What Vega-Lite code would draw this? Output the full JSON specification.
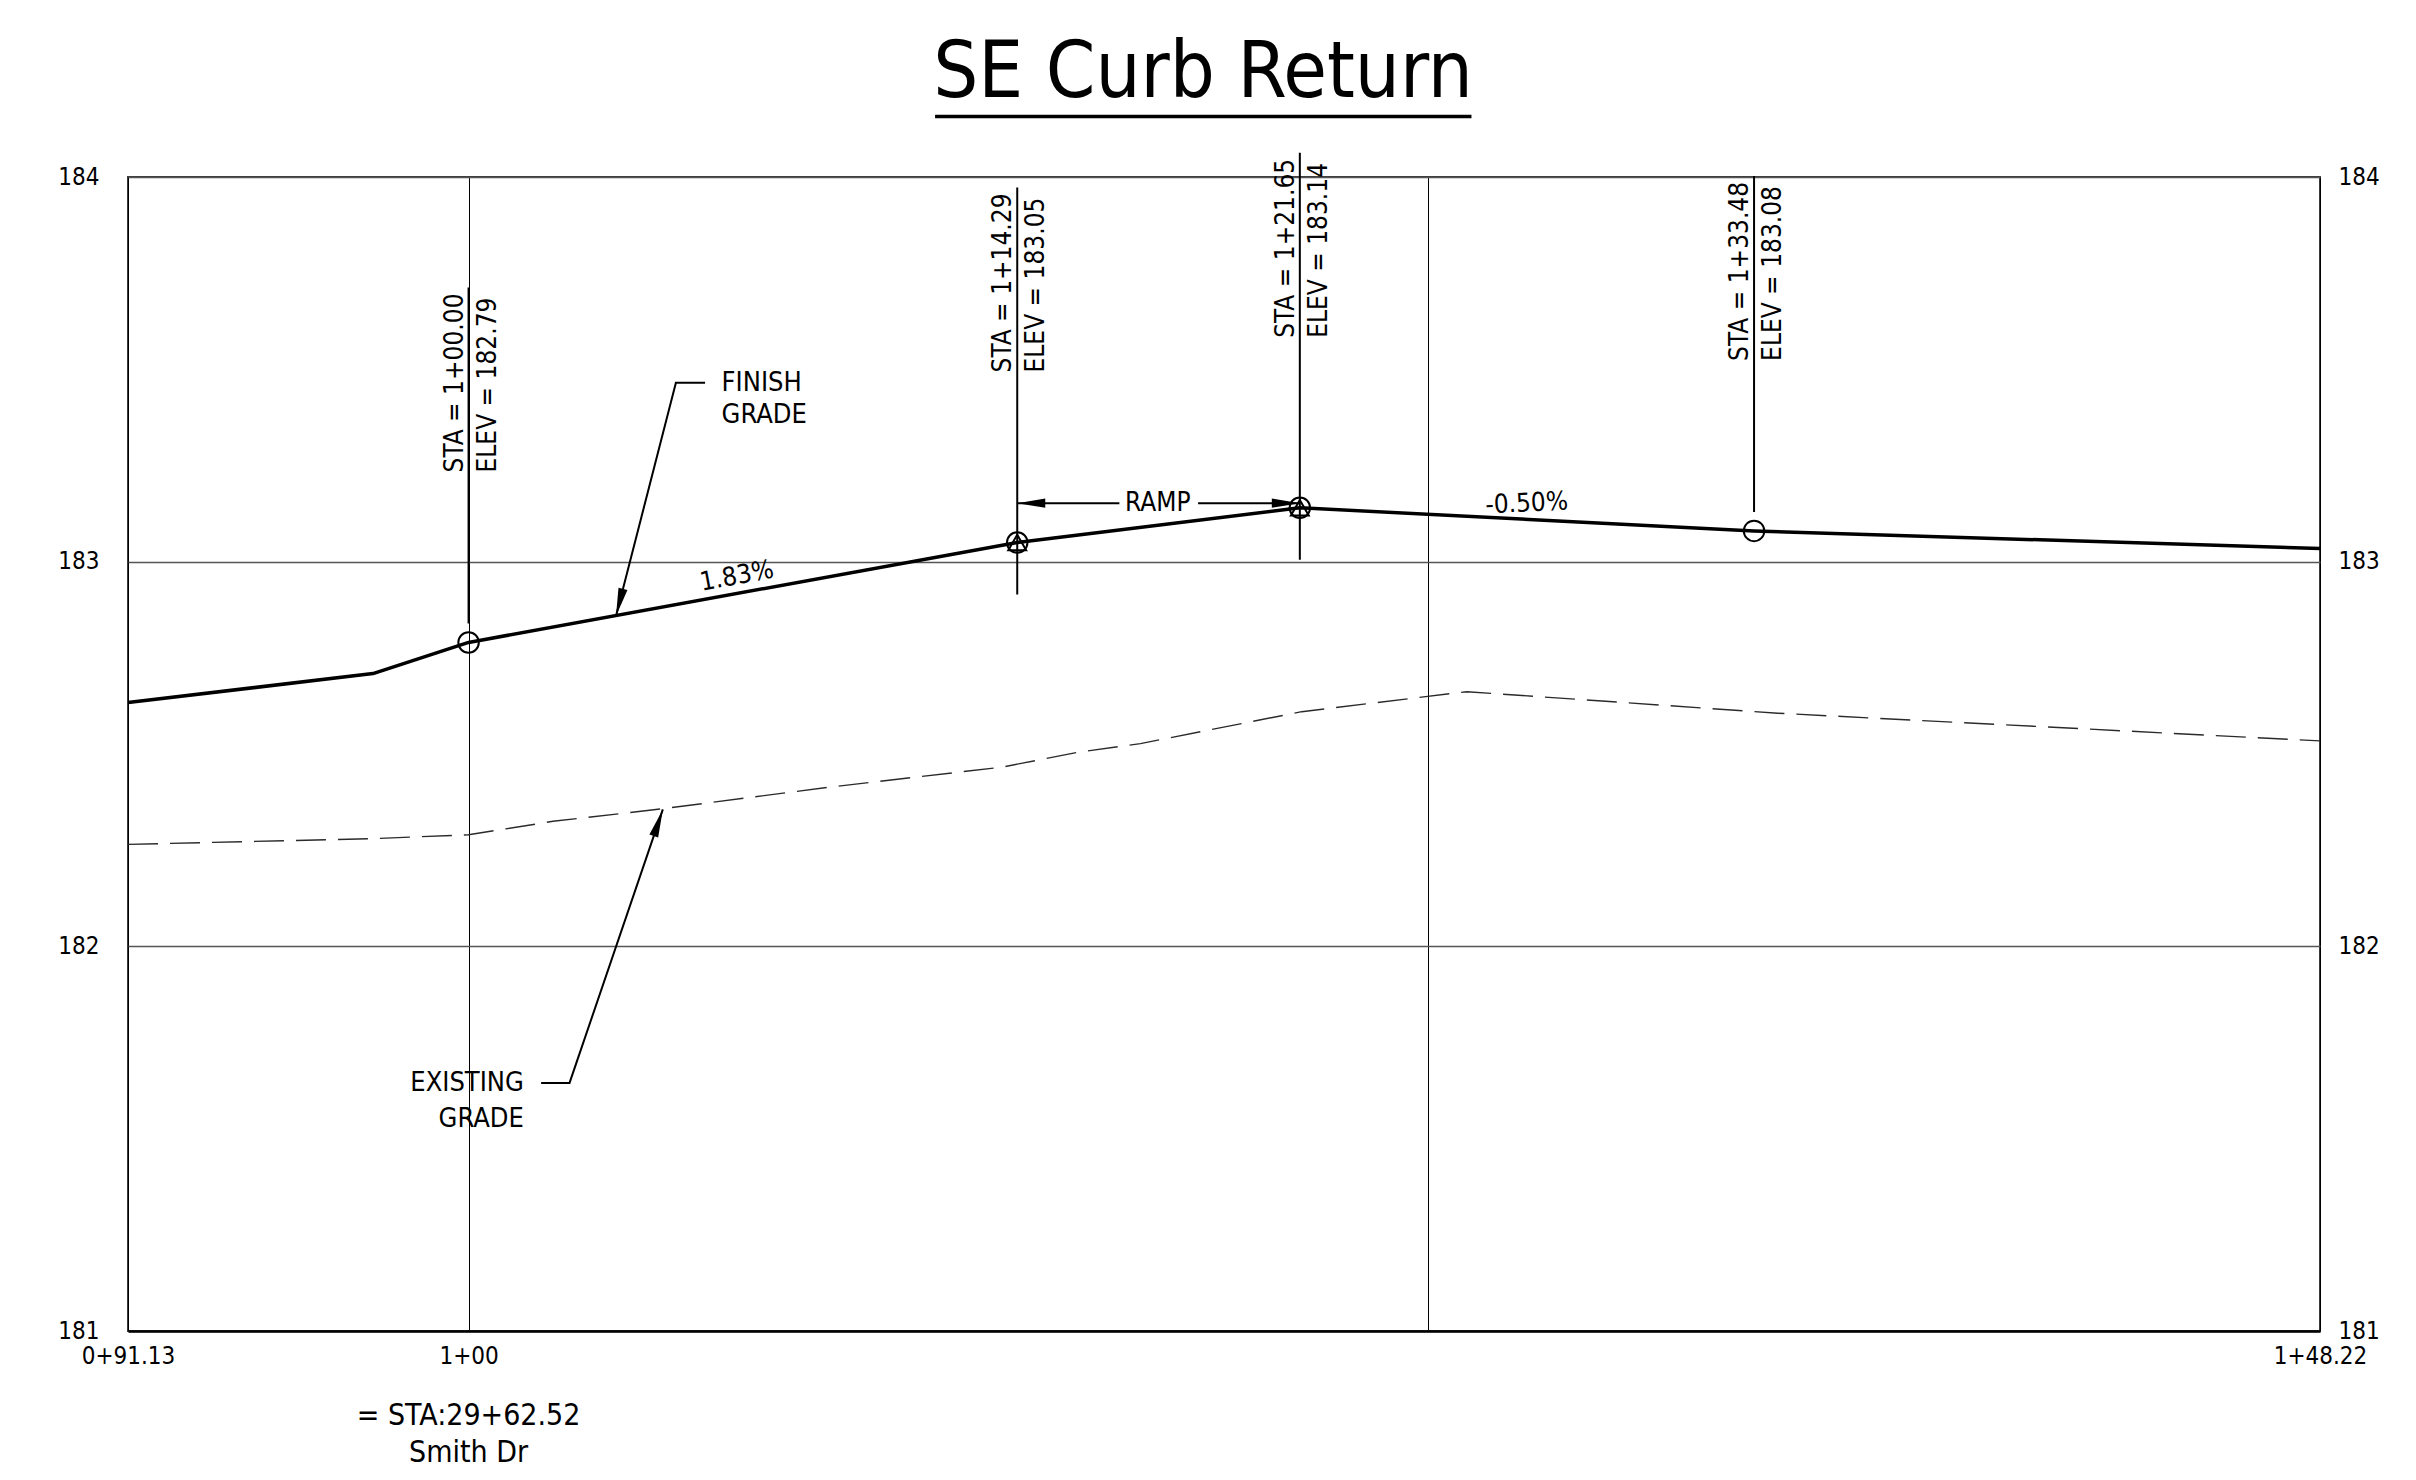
{
  "$schema": "https://vega.github.io/schema/vega-lite/v6.json",
  "width": 2192,
  "height": 1154,
  "autosize": {"type": "none"},
  "padding": {"left": 128, "top": 177, "right": 96, "bottom": 149},
  "background": "white",
  "config": {
    "view": {"stroke": "#3a3a3a", "strokeWidth": 2},
    "font": "DejaVu Sans Condensed, Liberation Sans Narrow, DejaVu Sans, sans-serif",
    "text": {"color": "black"}
  },
  "title": {
    "text": "SE Curb Return",
    "fontSize": 79,
    "font": "DejaVu Sans Condensed, Liberation Sans Narrow, DejaVu Sans, sans-serif",
    "fontWeight": "normal",
    "color": "black",
    "anchor": "middle",
    "frame": "group",
    "baseline": "alphabetic",
    "offset": -61,
    "dx": -21
  },
  "datasets": {
    "finish": [
      {"sta": 91.13, "elev": 182.634},
      {"sta": 97.51, "elev": 182.709},
      {"sta": 100.0, "elev": 182.79},
      {"sta": 114.29, "elev": 183.05},
      {"sta": 121.65, "elev": 183.14},
      {"sta": 133.48, "elev": 183.08},
      {"sta": 148.22, "elev": 183.034}
    ],
    "existing": [
      {"sta": 91.13, "elev": 182.265},
      {"sta": 97.5, "elev": 182.28},
      {"sta": 100.0, "elev": 182.29},
      {"sta": 102.2, "elev": 182.325},
      {"sta": 105.0, "elev": 182.357},
      {"sta": 109.5, "elev": 182.415},
      {"sta": 113.9, "elev": 182.466},
      {"sta": 115.9, "elev": 182.505},
      {"sta": 117.5, "elev": 182.527},
      {"sta": 121.7, "elev": 182.61},
      {"sta": 126.0, "elev": 182.662},
      {"sta": 134.1, "elev": 182.606},
      {"sta": 148.22, "elev": 182.534}
    ],
    "markers": [
      {"sta": 100.0, "elev": 182.79, "kind": "circle", "staLabel": "STA = 1+00.00", "elevLabel": "ELEV = 182.79"},
      {"sta": 114.29, "elev": 183.05, "kind": "ramp", "staLabel": "STA = 1+14.29", "elevLabel": "ELEV = 183.05"},
      {"sta": 121.65, "elev": 183.14, "kind": "ramp", "staLabel": "STA = 1+21.65", "elevLabel": "ELEV = 183.14"},
      {"sta": 133.48, "elev": 183.08, "kind": "circle", "staLabel": "STA = 1+33.48", "elevLabel": "ELEV = 183.08"}
    ],
    "rampSeg": [
      {"sta": 114.29, "sta2": 116.95, "elev": 183.152},
      {"sta": 119.0, "sta2": 121.65, "elev": 183.152}
    ],
    "rampText": [{"sta": 117.95, "elev": 183.152, "label": "RAMP"}],
    "arrows": [
      {"name": "rampL", "sta": 114.29, "elev": 183.152},
      {"name": "rampR", "sta": 121.65, "elev": 183.152},
      {"name": "finish", "sta": 103.84, "elev": 182.859},
      {"name": "existing", "sta": 105.06, "elev": 182.356}
    ],
    "leaders": [
      {"id": "finish", "seq": 0, "sta": 106.16, "elev": 183.465},
      {"id": "finish", "seq": 1, "sta": 105.4, "elev": 183.465},
      {"id": "finish", "seq": 2, "sta": 103.84, "elev": 182.859},
      {"id": "existing", "seq": 0, "sta": 101.89, "elev": 181.645},
      {"id": "existing", "seq": 1, "sta": 102.63, "elev": 181.645},
      {"id": "existing", "seq": 2, "sta": 105.06, "elev": 182.356}
    ],
    "notes": [
      {"group": "finish", "sta": 106.59, "elev": 183.464, "label": "FINISH"},
      {"group": "finish", "sta": 106.59, "elev": 183.381, "label": "GRADE"},
      {"group": "existing", "sta": 101.44, "elev": 181.645, "label": "EXISTING"},
      {"group": "existing", "sta": 101.44, "elev": 181.552, "label": "GRADE"}
    ],
    "grades": [
      {"name": "up", "sta": 107.07, "elev": 182.919, "label": "1.83%"},
      {"name": "down", "sta": 127.58, "elev": 183.11, "label": "-0.50%"}
    ],
    "refNote": [
      {"sta": 100.0, "elev": 180.779, "label": "= STA:29+62.52"},
      {"sta": 100.0, "elev": 180.682, "label": "Smith Dr"}
    ],
    "underline": [{"sta": 112.15, "sta2": 126.12, "elev": 184.157}]
  },
  "resolve": {"axis": {"y": "independent"}},
  "encoding": {
    "x": {
      "field": "sta",
      "type": "quantitative",
      "title": null,
      "scale": {"domain": [91.13, 148.22], "nice": false, "zero": false},
      "axis": {
        "values": [91.13, 100, 125, 148.22],
        "labelExpr": "datum.value == 125 ? '' : (datum.value == 100 ? '1+00' : floor(datum.value / 100) + '+' + format(datum.value % 100, '05.2f'))",
        "grid": true,
        "gridColor": "black",
        "gridWidth": 1,
        "ticks": false,
        "domain": true,
        "domainColor": "black",
        "domainWidth": 2.5,
        "labelFont": "DejaVu Sans Condensed, Liberation Sans Narrow, DejaVu Sans, sans-serif",
        "labelFontSize": 24,
        "labelColor": "black",
        "labelPadding": 13,
        "labelFlush": false,
        "labelOverlap": false,
        "labelBound": false
      }
    },
    "y": {
      "field": "elev",
      "type": "quantitative",
      "title": null,
      "scale": {"domain": [181, 184], "nice": false, "zero": false},
      "axis": null
    }
  },
  "layer": [
    {
      "data": {"name": "finish"},
      "mark": {"type": "line", "color": "black", "strokeWidth": 3.5, "strokeJoin": "round"},
      "encoding": {
        "y": {
          "field": "elev",
          "type": "quantitative",
          "title": null,
          "scale": {"domain": [181, 184], "nice": false, "zero": false},
          "axis": {
            "orient": "left",
            "values": [181, 182, 183, 184],
            "format": "d",
            "grid": true,
            "gridColor": "#555555",
            "gridWidth": 1.5,
            "ticks": false,
            "domain": false,
            "labelFont": "DejaVu Sans Condensed, Liberation Sans Narrow, DejaVu Sans, sans-serif",
            "labelFontSize": 24,
            "labelColor": "black",
            "labelPadding": 29,
            "labelOverlap": false,
            "labelBound": false
          }
        }
      }
    },
    {
      "data": {"name": "existing"},
      "mark": {"type": "line", "color": "#2a2a2a", "strokeWidth": 1.4, "strokeDash": [30, 12]},
      "encoding": {
        "y": {
          "field": "elev",
          "type": "quantitative",
          "title": null,
          "scale": {"domain": [181, 184], "nice": false, "zero": false},
          "axis": {
            "orient": "right",
            "values": [181, 182, 183, 184],
            "format": "d",
            "grid": false,
            "ticks": false,
            "domain": false,
            "labelFont": "DejaVu Sans Condensed, Liberation Sans Narrow, DejaVu Sans, sans-serif",
            "labelFontSize": 24,
            "labelColor": "black",
            "labelPadding": 18,
            "labelOverlap": false,
            "labelBound": false
          }
        }
      }
    },
    {
      "data": {"name": "markers"},
      "transform": [{"filter": "datum.kind == 'circle'"}],
      "mark": {"type": "rule", "color": "black", "strokeWidth": 2, "yOffset": -19, "y2Offset": -355},
      "encoding": {"y2": {"field": "elev"}}
    },
    {
      "data": {"name": "markers"},
      "transform": [{"filter": "datum.kind == 'ramp'"}],
      "mark": {"type": "rule", "color": "black", "strokeWidth": 2, "yOffset": 52, "y2Offset": -355},
      "encoding": {"y2": {"field": "elev"}}
    },
    {
      "data": {"name": "markers"},
      "mark": {"type": "point", "shape": "circle", "size": 420, "filled": false, "color": "black", "strokeWidth": 2, "opacity": 1},
      "encoding": {}
    },
    {
      "data": {"name": "markers"},
      "transform": [{"filter": "datum.kind == 'ramp'"}],
      "mark": {"type": "point", "shape": "triangle-up", "size": 320, "filled": false, "color": "black", "strokeWidth": 2, "opacity": 1},
      "encoding": {}
    },
    {
      "data": {"name": "markers"},
      "mark": {"type": "text", "angle": 270, "align": "left", "baseline": "alphabetic", "dx": 170, "dy": -6, "fontSize": 26},
      "encoding": {"text": {"field": "staLabel"}}
    },
    {
      "data": {"name": "markers"},
      "mark": {"type": "text", "angle": 270, "align": "left", "baseline": "alphabetic", "dx": 170, "dy": 27, "fontSize": 26},
      "encoding": {"text": {"field": "elevLabel"}}
    },
    {
      "data": {"name": "rampSeg"},
      "mark": {"type": "rule", "color": "black", "strokeWidth": 2},
      "encoding": {"x2": {"field": "sta2"}}
    },
    {
      "data": {"name": "rampText"},
      "mark": {"type": "text", "align": "center", "baseline": "middle", "fontSize": 26},
      "encoding": {"text": {"field": "label"}}
    },
    {
      "data": {"name": "arrows"},
      "transform": [{"filter": "datum.name == 'rampL'"}],
      "mark": {"type": "point", "shape": "M0,0L-0.33,2L0.33,2Z", "size": 784, "filled": true, "color": "black", "opacity": 1, "angle": 270},
      "encoding": {}
    },
    {
      "data": {"name": "arrows"},
      "transform": [{"filter": "datum.name == 'rampR'"}],
      "mark": {"type": "point", "shape": "M0,0L-0.33,2L0.33,2Z", "size": 784, "filled": true, "color": "black", "opacity": 1, "angle": 90},
      "encoding": {}
    },
    {
      "data": {"name": "arrows"},
      "transform": [{"filter": "datum.name == 'finish'"}],
      "mark": {"type": "point", "shape": "M0,0L-0.33,2L0.33,2Z", "size": 784, "filled": true, "color": "black", "opacity": 1, "angle": 194.4},
      "encoding": {}
    },
    {
      "data": {"name": "arrows"},
      "transform": [{"filter": "datum.name == 'existing'"}],
      "mark": {"type": "point", "shape": "M0,0L-0.33,2L0.33,2Z", "size": 784, "filled": true, "color": "black", "opacity": 1, "angle": 18.9},
      "encoding": {}
    },
    {
      "data": {"name": "leaders"},
      "mark": {"type": "line", "color": "black", "strokeWidth": 2},
      "encoding": {"detail": {"field": "id"}, "order": {"field": "seq", "type": "quantitative"}}
    },
    {
      "data": {"name": "notes"},
      "transform": [{"filter": "datum.group == 'finish'"}],
      "mark": {"type": "text", "align": "left", "baseline": "middle", "fontSize": 27},
      "encoding": {"text": {"field": "label"}}
    },
    {
      "data": {"name": "notes"},
      "transform": [{"filter": "datum.group == 'existing'"}],
      "mark": {"type": "text", "align": "right", "baseline": "middle", "fontSize": 27},
      "encoding": {"text": {"field": "label"}}
    },
    {
      "data": {"name": "grades"},
      "transform": [{"filter": "datum.name == 'up'"}],
      "mark": {"type": "text", "align": "center", "baseline": "alphabetic", "angle": 349.5, "dy": -9, "fontSize": 26},
      "encoding": {"text": {"field": "label"}}
    },
    {
      "data": {"name": "grades"},
      "transform": [{"filter": "datum.name == 'down'"}],
      "mark": {"type": "text", "align": "center", "baseline": "alphabetic", "angle": 357.1, "dy": -8, "fontSize": 26},
      "encoding": {"text": {"field": "label"}}
    },
    {
      "data": {"name": "refNote"},
      "mark": {"type": "text", "align": "center", "baseline": "middle", "fontSize": 30},
      "encoding": {"text": {"field": "label"}}
    },
    {
      "data": {"name": "underline"},
      "mark": {"type": "rule", "color": "black", "strokeWidth": 3.5},
      "encoding": {"x2": {"field": "sta2"}}
    }
  ]
}
